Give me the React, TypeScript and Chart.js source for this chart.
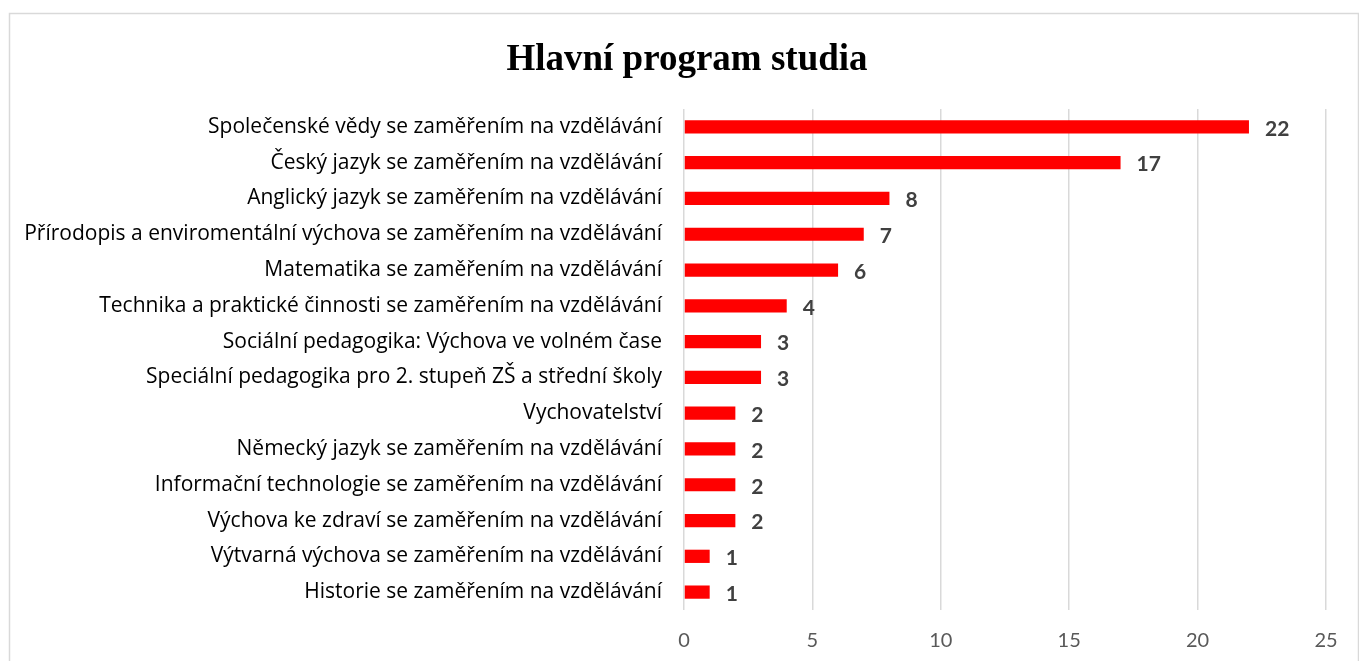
import React, { useEffect, useRef } from "react";
import { Chart, registerables } from "chart.js";

Chart.register(...registerables);

const titleText = "Hlavní program studia";

const categories = [
  "Společenské vědy se zaměřením na vzdělávání",
  "Český jazyk se zaměřením na vzdělávání",
  "Anglický jazyk se zaměřením na vzdělávání",
  "Přírodopis a enviromentální výchova se zaměřením na vzdělávání",
  "Matematika se zaměřením na vzdělávání",
  "Technika a praktické činnosti se zaměřením na vzdělávání",
  "Sociální pedagogika: Výchova ve volném čase",
  "Speciální pedagogika pro 2. stupeň ZŠ a střední školy",
  "Vychovatelství",
  "Německý jazyk se zaměřením na vzdělávání",
  "Informační technologie se zaměřením na vzdělávání",
  "Výchova ke zdraví se zaměřením na vzdělávání",
  "Výtvarná výchova se zaměřením na vzdělávání",
  "Historie se zaměřením na vzdělávání",
];

const values = [22, 17, 8, 7, 6, 4, 3, 3, 2, 2, 2, 2, 1, 1];

const xTicks = [0, 5, 10, 15, 20, 25];

const LABEL_FONT = "'Open Sans', Lato, sans-serif";
const NUM_FONT = "Lato, 'Open Sans', sans-serif";
const TITLE_FONT = "bold 37px 'Liberation Serif', 'Times New Roman', serif";

const framePlugin = {
  id: "frame",
  beforeDraw(chart: any) {
    const ctx = chart.ctx;
    ctx.save();
    ctx.fillStyle = "#ffffff";
    ctx.fillRect(0, 0, chart.width, chart.height);
    ctx.strokeStyle = "#d9d9d9";
    ctx.lineWidth = 1.5;
    ctx.strokeRect(9.5, 13.5, chart.width - 10, chart.height + 20);
    ctx.fillStyle = "#000000";
    ctx.font = TITLE_FONT;
    ctx.textAlign = "center";
    ctx.textBaseline = "alphabetic";
    ctx.fillText(titleText, 687, 70);
    ctx.restore();
  },
};

const valueLabelPlugin = {
  id: "valueLabels",
  afterDatasetsDraw(chart: any) {
    const ctx = chart.ctx;
    const meta = chart.getDatasetMeta(0);
    ctx.save();
    ctx.font = `bold 21px ${NUM_FONT}`;
    ctx.fillStyle = "#404040";
    ctx.textAlign = "left";
    ctx.textBaseline = "middle";
    meta.data.forEach((bar: any, i: number) => {
      ctx.fillText(String(values[i]), bar.x + 16, bar.y + 2);
    });
    ctx.restore();
  },
};

export default function App() {
  const canvasRef = useRef<HTMLCanvasElement | null>(null);

  useEffect(() => {
    if (!canvasRef.current) return;
    const chart = new Chart(canvasRef.current, {
      type: "bar",
      data: {
        labels: categories,
        datasets: [
          {
            data: values,
            backgroundColor: "#ff0000",
            borderWidth: 0,
            categoryPercentage: 1,
            barPercentage: 0.37,
          },
        ],
      },
      options: {
        indexAxis: "y",
        animation: false,
        responsive: true,
        maintainAspectRatio: false,
        layout: { padding: { top: 109, right: 33, bottom: -11, left: 0 } },
        plugins: {
          legend: { display: false },
          tooltip: { enabled: false },
          title: { display: false },
        },
        scales: {
          x: {
            min: 0,
            max: 25,
            afterBuildTicks: (scale: any) => {
              scale.ticks = xTicks.map((v) => ({ value: v }));
            },
            grid: { color: "#d9d9d9", lineWidth: 1.5, drawTicks: false },
            border: { display: false },
            ticks: {
              color: "#595959",
              padding: 19,
              font: { family: NUM_FONT, size: 20 },
            },
          },
          y: {
            grid: { display: false, drawTicks: false },
            border: { display: false },
            afterFit: (scale: any) => {
              scale.width = 684;
            },
            ticks: {
              color: "#000000",
              padding: 22,
              autoSkip: false,
              font: { family: LABEL_FONT, size: 21 },
            },
          },
        },
      },
      plugins: [framePlugin, valueLabelPlugin],
    });
    return () => chart.destroy();
  }, []);

  return (
    <div style={{ position: "absolute", left: 0, top: 0, width: 1359, height: 661 }}>
      <canvas ref={canvasRef} />
    </div>
  );
}
